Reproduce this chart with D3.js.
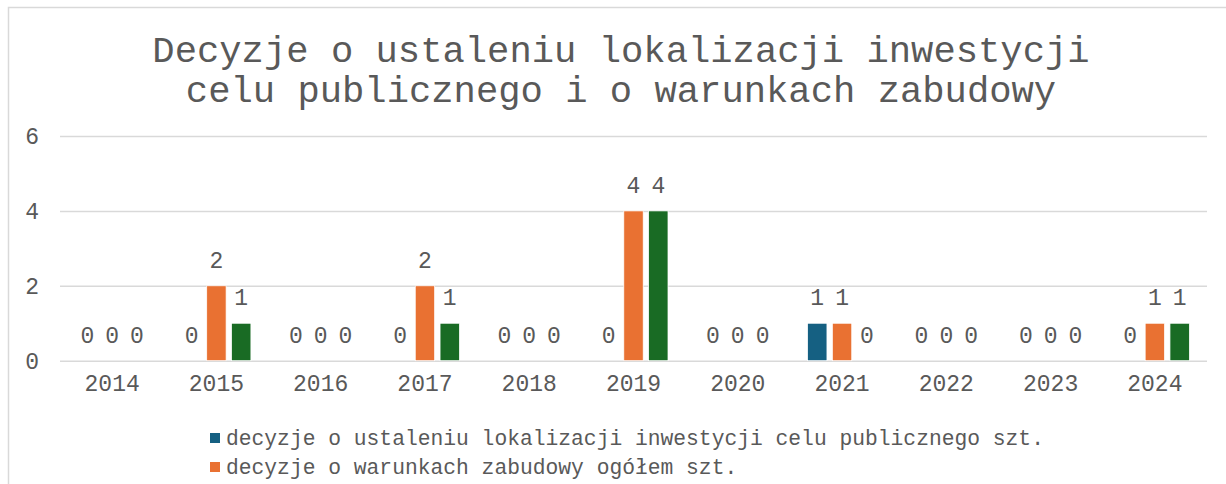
<!DOCTYPE html>
<html>
<head>
<meta charset="utf-8">
<script src="https://cdn.jsdelivr.net/npm/d3@7"></script>
<style>
  html, body { margin: 0; padding: 0; background: #ffffff; }
  svg { display: block; }
  text { font-family: "Liberation Mono", "Courier New", monospace; fill: #595959; }
</style>
</head>
<body>
<svg id="chart" width="1226" height="484"></svg>
<script>
// Chart content
const titleLines = [
  "Decyzje o ustaleniu lokalizacji inwestycji",
  "celu publicznego i o warunkach zabudowy"
];
const years = ["2014", "2015", "2016", "2017", "2018", "2019", "2020", "2021", "2022", "2023", "2024"];
const lokalizacjaCelu = [0, 0, 0, 0, 0, 0, 0, 1, 0, 0, 0];
const warunkiOgolem   = [0, 2, 0, 2, 0, 4, 0, 1, 0, 0, 1];
const warunkiMieszk   = [0, 1, 0, 1, 0, 4, 0, 0, 0, 0, 1];
const seriesNames = [
  "decyzje o ustaleniu lokalizacji inwestycji celu publicznego szt.",
  "decyzje o warunkach zabudowy ogółem szt.",
  "decyzje o warunkach zabudowy mieszkaniowej szt."
];
const seriesColors = ["#156082", "#E97132", "#196B24"];
const yTicks = [0, 2, 4, 6];

const W = 1226, H = 484;
const svg = d3.select("#chart");

// outer chart frame (runs past the right and bottom edges)
svg.append("rect")
  .attr("x", 8.5).attr("y", 7.5)
  .attr("width", 1240).attr("height", 500)
  .attr("fill", "#ffffff")
  .attr("stroke", "#d9d9d9").attr("stroke-width", 1.5);

// title
svg.append("g").selectAll("text")
  .data(titleLines)
  .join("text")
  .attr("x", 621)
  .attr("y", (d, i) => 62 + i * 40)
  .attr("text-anchor", "middle")
  .style("font-size", "37.2px")
  .text(d => d);

const plot = { left: 60, right: 1207, top: 136, bottom: 360.7 };

const x = d3.scaleBand().domain(years).range([plot.left, plot.right]).padding(0);
const y = d3.scaleLinear().domain([0, 6]).range([plot.bottom, plot.top]);

const series = [lokalizacjaCelu, warunkiOgolem, warunkiMieszk];
const barW = 18, barStep = 23;
const xs = d3.scaleBand().domain(d3.range(series.length))
  .range([-barStep * 1.5, barStep * 1.5]).paddingInner((barStep - barW) / barStep).paddingOuter(0);

// gridlines
svg.append("g")
  .attr("transform", `translate(${plot.left},0)`)
  .call(d3.axisLeft(y).tickValues(yTicks).tickSize(-(plot.right - plot.left)).tickFormat(""))
  .call(g => g.select(".domain").remove())
  .call(g => g.selectAll("line").attr("stroke", "#d9d9d9").attr("stroke-width", 1.5));

// y tick labels
svg.append("g")
  .attr("transform", "translate(39,0)")
  .call(d3.axisLeft(y).tickValues(yTicks).tickSize(0).tickPadding(0).tickFormat(d3.format("d")))
  .call(g => g.select(".domain").remove())
  .call(g => g.selectAll("text").style("font-size", "23px").attr("fill", "#595959"));

// x category labels
svg.append("g")
  .attr("transform", `translate(0,${plot.bottom})`)
  .call(d3.axisBottom(x).tickSize(0).tickPadding(14))
  .call(g => g.select(".domain").remove())
  .call(g => g.selectAll("text").style("font-size", "23px").attr("fill", "#595959"));

// bars and value labels
series.forEach((vals, si) => {
  const g = svg.append("g");
  const cx = yr => x(yr) + x.bandwidth() / 2 + xs(si);
  g.selectAll("rect")
    .data(years.map((yr, i) => ({ yr, v: vals[i] })).filter(d => d.v > 0))
    .join("rect")
    .attr("x", d => cx(d.yr))
    .attr("y", d => y(d.v))
    .attr("width", xs.bandwidth())
    .attr("height", d => y(0) - y(d.v))
    .attr("fill", seriesColors[si])
    .attr("stroke", "#ffffff").attr("stroke-width", 0.75);
  g.selectAll("text")
    .data(years.map((yr, i) => ({ yr, v: vals[i] })))
    .join("text")
    .attr("x", d => cx(d.yr) + xs.bandwidth() / 2)
    .attr("y", d => y(d.v) - 18)
    .attr("text-anchor", "middle")
    .style("font-size", "23px")
    .text(d => d.v);
});

// legend: one row per series, rows that fall outside the frame are not drawn
const legend = svg.append("g");
seriesNames.forEach((name, i) => {
  const rowY = 438 + i * 29;
  if (rowY + 8 > H) return;
  legend.append("rect")
    .attr("x", 210).attr("y", rowY - 5)
    .attr("width", 10).attr("height", 10)
    .attr("fill", seriesColors[i]);
  legend.append("text")
    .attr("x", 226).attr("y", rowY + 7)
    .style("font-size", "21.3px")
    .text(name);
});
</script>
</body>
</html>
